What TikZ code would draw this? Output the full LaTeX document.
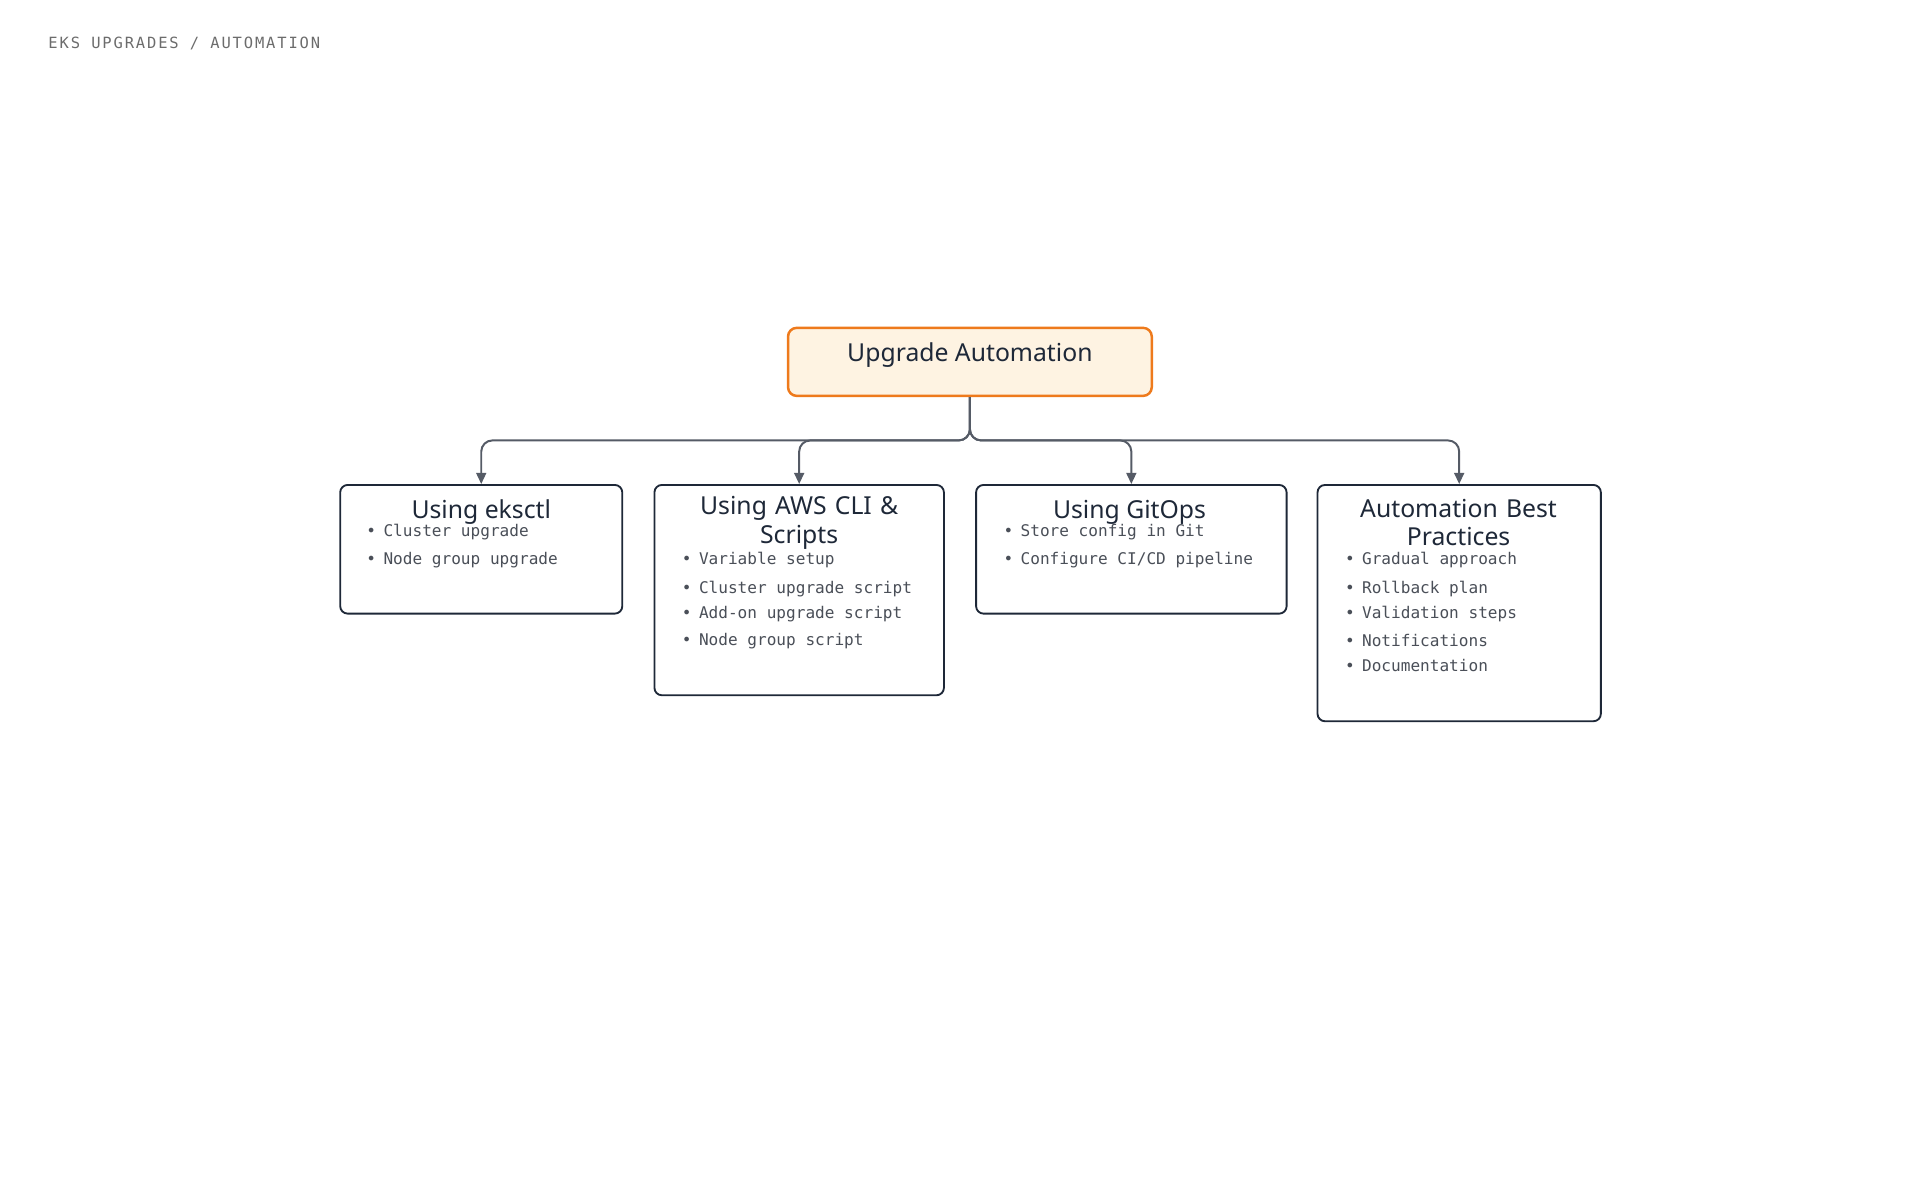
\documentclass[tikz,border=0pt]{standalone}
\usepackage{fontspec}
\setmainfont{Noto Sans}
\newfontfamily\monof{DejaVu Sans Mono}
\newfontfamily\headf{DejaVu Sans Mono}[LetterSpace=12]
\usetikzlibrary{arrows.meta}
\definecolor{ink}{HTML}{1E2838}
\definecolor{wire}{HTML}{555B66}
\definecolor{rootfill}{HTML}{FEF3E2}
\definecolor{rootline}{HTML}{EE7A1C}
\definecolor{bulletgray}{HTML}{4A4F58}

\tikzset{
  box/.style={draw=ink, line width=1.5pt, rounded corners=6pt, fill=white},
  rootbox/.style={draw=rootline, fill=rootfill, line width=2pt, rounded corners=7pt},
  heading/.style={font=\fontsize{20}{23}\selectfont\bfseries, text=ink, align=center},
  item/.style={font=\monof\fontsize{13}{15}\selectfont, text=bulletgray, anchor=west, inner sep=0pt},
  link/.style={draw=wire, line width=1.6pt, rounded corners=9pt, -{Triangle[length=9pt,width=8pt]}}
}

\begin{document}
\begin{tikzpicture}[x=1pt,y=-1pt]
\useasboundingbox (0,0) rectangle (1552,970);

% Header
\node[anchor=west, inner sep=0pt, text=gray!85!black, font=\headf\fontsize{12.5}{14}\selectfont] (hdr) at (39,35) {EKS UPGRADES / AUTOMATION};

% Boxes
\node[rootbox, minimum width=294pt, minimum height=55pt] (root) at (784,292.5) {};
\node[box, minimum width=228pt, minimum height=104pt] (eks) at (389,444) {};
\node[box, minimum width=234pt, minimum height=170pt] (cli) at (646,477) {};
\node[box, minimum width=251pt, minimum height=104pt] (git) at (914.5,444) {};
\node[box, minimum width=229pt, minimum height=191pt] (best) at (1179.5,487.5) {};

% Headings
\node[heading] (rootT) at (784,287) {Upgrade Automation};
\node[heading] (eksT) at (389,414) {Using eksctl};
\node[heading, text width=220pt, font=\fontsize{20}{23}\selectfont\bfseries] (cliT) at (646,422.5) {Using AWS CLI \&\\Scripts};
\node[heading] (gitT) at (913,414) {Using GitOps};
\node[heading, text width=220pt] (bestT) at (1179,422.5) {Automation Best\\Practices};

% Bullets
\foreach \txt [count=\i] in {Cluster upgrade, Node group upgrade}
  \node[item] (eksI\i) at (296,407+23*\i) {\textbullet\hspace{6pt}\txt};
\foreach \txt/\yy [count=\i] in {Variable setup/453, Cluster upgrade script/476, Add-on upgrade script/496, Node group script/518}
  \node[item] (cliI\i) at (551,\yy) {\textbullet\hspace{6pt}\txt};
\foreach \txt [count=\i] in {Store config in Git, Configure CI/CD pipeline}
  \node[item] (gitI\i) at (811,407+23*\i) {\textbullet\hspace{6pt}\txt};
\foreach \txt/\yy [count=\i] in {Gradual approach/453, Rollback plan/476, Validation steps/496, Notifications/518, Documentation/538}
  \node[item] (bestI\i) at (1087,\yy) {\textbullet\hspace{6pt}\txt};

% Connectors
\coordinate (fork) at (784,356);
\foreach \b in {eks,cli,git,best}
  \draw[link] (root.south) -- (fork) -| (\b.north);
\end{tikzpicture}
\end{document}
